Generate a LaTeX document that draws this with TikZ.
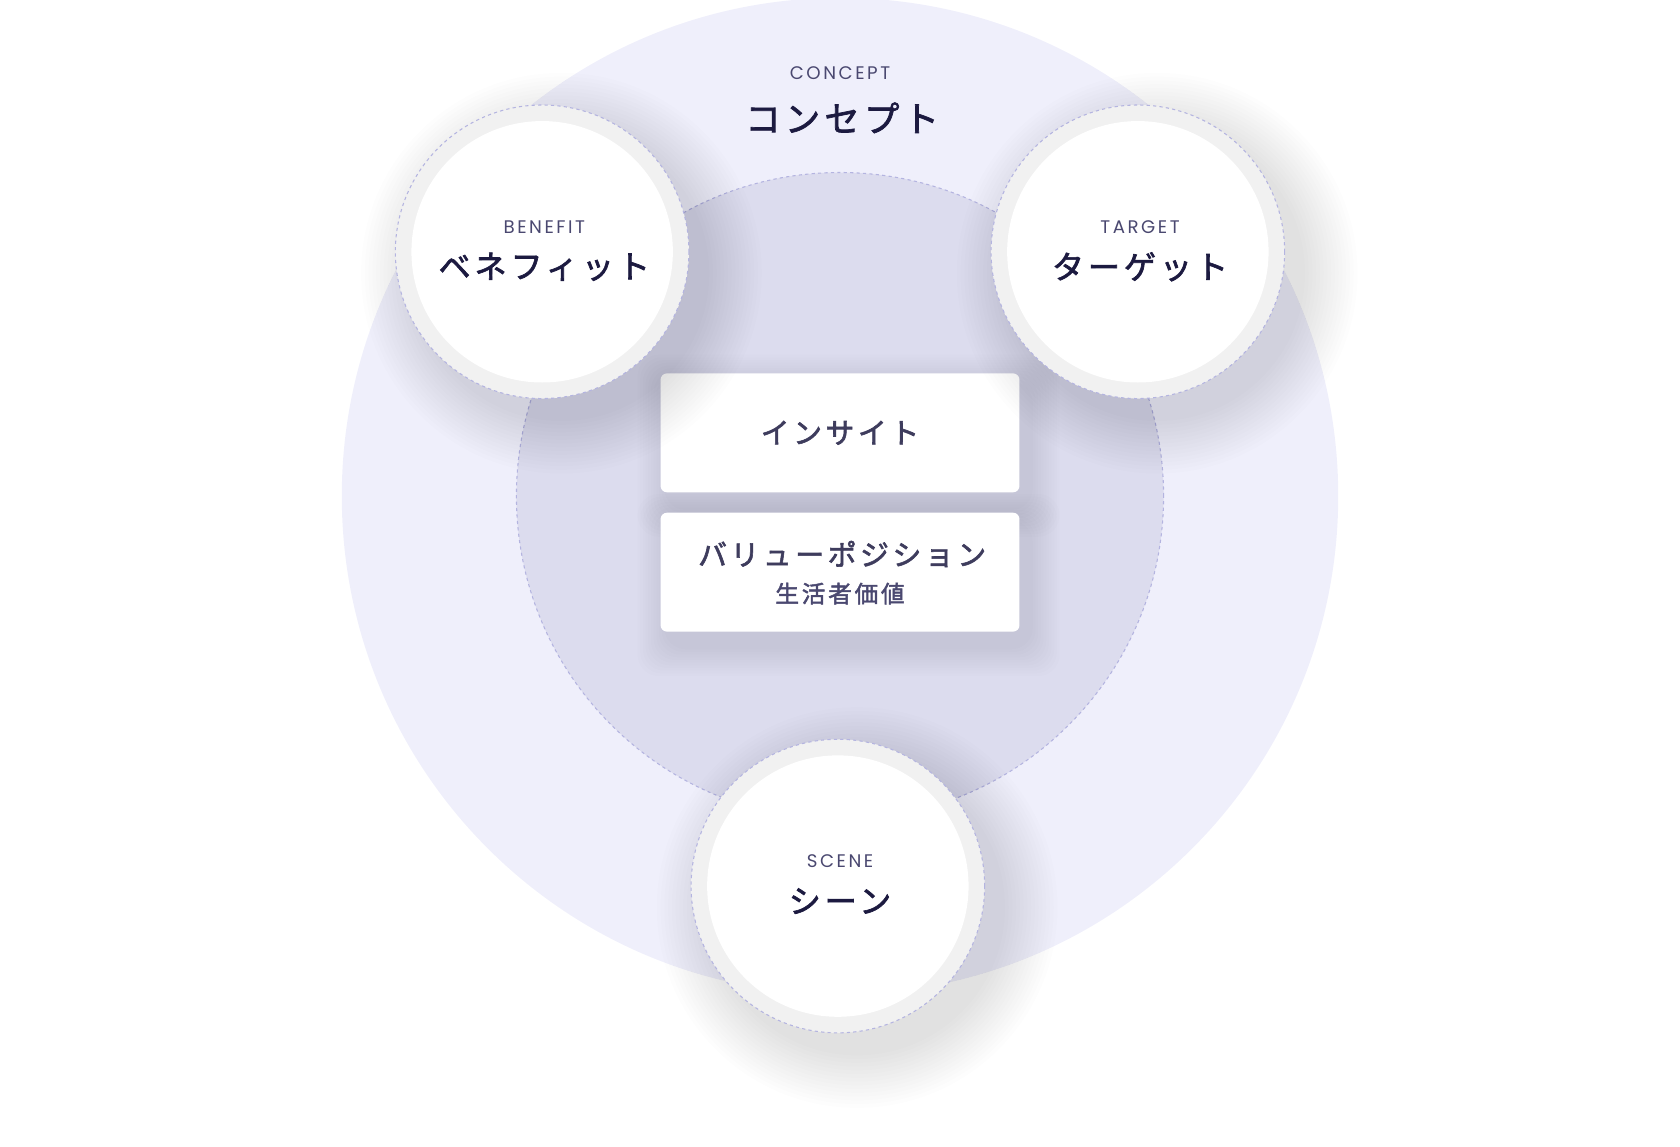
\documentclass[tikz,border=0pt]{standalone}
\usepackage{fontspec}
\setmainfont{Poppins}
\newfontfamily\jp[LetterSpace=12,FakeBold=2]{Noto Sans CJK JP}
\newfontfamily\en[LetterSpace=14]{Poppins}
\definecolor{outerc}{HTML}{EFEFFB}
\definecolor{innerc}{HTML}{DCDCEE}
\definecolor{dashc}{HTML}{B4B4E0}
\definecolor{ringc}{HTML}{F1F1F1}
\definecolor{navy}{HTML}{1C1A40}
\definecolor{sub}{HTML}{4A4870}
\tikzset{
  ring/.style={circle, draw=dashc, dashed, line width=1pt, fill=ringc, minimum size=274pt, inner sep=0pt},
  core/.style={circle, fill=white, minimum size=244pt, inner sep=0pt},
  enl/.style={font=\en\fontsize{17}{20}\selectfont, text=sub},
  jpl/.style={font=\jp\fontsize{30}{34}\selectfont, text=navy},
  box/.style={rounded corners=6pt, fill=white, minimum width=335pt, minimum height=111pt}
}
\newcommand\cshadow[3]{% x y r
  \foreach \k in {0,...,14}{\fill[black,opacity=0.006] (#1+18,#2+20) circle[radius=#3+50-3.5*\k];}}
\newcommand\bshadow[2]{% x y
  \foreach \k in {0,...,10}{\fill[black,opacity=0.006,rounded corners=20pt] (#1-167-30+2.5*\k+8,#2-55-30+2.5*\k+12) rectangle (#1+167+30-2.5*\k+8,#2+55+30-2.5*\k+12);}}
\begin{document}
\begin{tikzpicture}[x=1pt,y=-1pt]
\useasboundingbox (0,0) rectangle (1568,1070);
\node[circle, fill=outerc, minimum size=930pt, inner sep=0pt] (outer) at (784,463) {};
\node[circle, fill=innerc, draw=dashc, dashed, line width=1pt, minimum size=604pt, inner sep=0pt] (inner) at (784,463) {};
\node[enl] (cen) at (784,68) {CONCEPT};
\node[jpl, font=\jp\fontsize{33}{36}\selectfont] (cjp) at (786,110) {コンセプト};
\bshadow{784}{404}
\bshadow{784}{534}
\node[box] (ins) at (784,404) {};
\node[font=\jp\fontsize{27}{30}\selectfont, text=navy!85] (inst) at (784,404) {インサイト};
\node[box] (val) at (784,534) {};
\node[font=\jp\fontsize{27}{30}\selectfont, text=navy!85] (valt) at (786,517) {バリューポジション};
\node[font=\jp\fontsize{22}{26}\selectfont, text=sub] (valt2) at (784,554) {生活者価値};
\foreach \n/\x/\y/\e/\j in {ben/506/235/BENEFIT/ベネフィット, tar/1062/235/TARGET/ターゲット, sce/782/827/SCENE/シーン}{
  \cshadow{\x}{\y}{137}
  \node[ring] (\n) at (\x,\y) {};
  \node[core] (\n c) at (\x,\y) {};
  \node[enl] (\n e) at (\x+2,\y-23) {\e};
  \node[jpl] (\n j) at (\x+2,\y+14) {\j};
}
\end{tikzpicture}
\end{document}
